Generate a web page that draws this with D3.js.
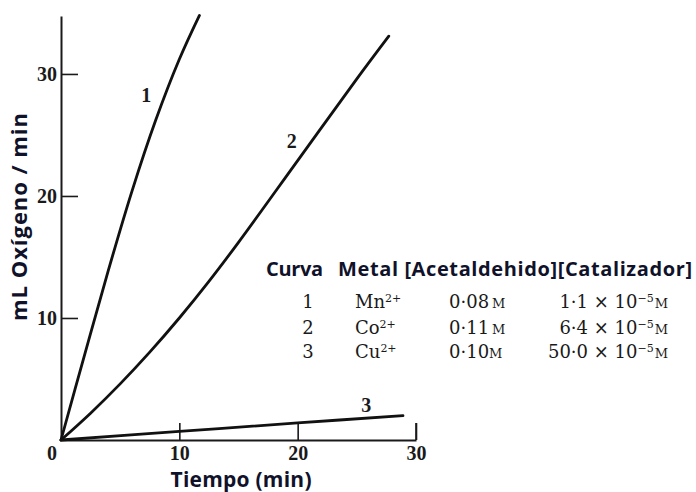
<!DOCTYPE html>
<html>
<head>
<meta charset="utf-8">
<script src="https://cdn.jsdelivr.net/npm/d3@7"></script>
<style>
  html, body { margin: 0; padding: 0; background: #fff; }
  svg { display: block; }
  .serif { font-family: "Liberation Serif", "DejaVu Serif", serif; fill: #1a1a1a; }
  .table { font-family: "DejaVu Serif", "Liberation Serif", serif; fill: #1a1a1a; }
  .sans { font-family: "Open Sans", Lato, sans-serif; font-weight: bold; fill: #10122a; }
</style>
</head>
<body>
<svg id="chart" width="696" height="492"></svg>
<script>
// Oxygen uptake rate (mL O2 / min) against time (min) for three metal catalysts
const curve1 = [[0, 0], [2, 7.0], [4, 13.9], [6, 20.4], [8, 26.2], [10, 31.2], [11.7, 34.8]];
const curve2 = [[0, 0], [2.5, 2.2], [5, 4.6], [7.5, 7.2], [10, 10.0], [12.5, 13.0], [15, 16.2], [20, 22.9], [25, 29.6], [27.7, 33.1]];
const curve3 = [[0, 0], [10, 0.7], [20, 1.4], [28.9, 2.0]];
const curveNames = ["1", "2", "3"];

const xTicks = [10, 20, 30];
const yTicks = [10, 20, 30];

// Legend table
const tableHeader = ["Curva", "Metal [Acetaldehido][Catalizador]"];
const tableCurve = ["1", "2", "3"];
const tableMetal = [["Mn", "2+"], ["Co", "2+"], ["Cu", "2+"]];
const tableAcet = ["0·08", "0·11", "0·10"];
const tableCat = ["1·1", "6·4", "50·0"];

const svg = d3.select("#chart");

const x = d3.scaleLinear().domain([0, 30]).range([61, 416]);
const y = d3.scaleLinear().domain([0, 34.75]).range([440, 16]);

// Axes: ticks point inward
const xAxis = svg.append("g")
  .attr("transform", `translate(0,${y(0)})`)
  .call(d3.axisBottom(x).tickValues(xTicks).tickSizeInner(-17).tickSizeOuter(0).tickPadding(6));
const yAxis = svg.append("g")
  .attr("transform", `translate(${x(0)},0)`)
  .call(d3.axisLeft(y).tickValues(yTicks).tickSizeInner(-17).tickSizeOuter(0).tickPadding(4));

[xAxis, yAxis].forEach(g => {
  g.select(".domain").attr("stroke", "#1a1a1a").attr("stroke-width", 2);
  g.selectAll(".tick line").attr("stroke", "#1a1a1a").attr("stroke-width", 1.6);
  g.selectAll(".tick text")
    .attr("class", "serif")
    .style("font-size", "20px")
    .style("font-weight", "bold")
    .style("font-family", "'Liberation Serif', serif")
    .attr("fill", "#1a1a1a");
});

// Closing tick at the right end of the time axis
svg.append("line")
  .attr("x1", x(30)).attr("x2", x(30))
  .attr("y1", y(0)).attr("y2", y(0) - 17)
  .attr("stroke", "#1a1a1a").attr("stroke-width", 1.6);

// Origin label
svg.append("text").attr("class", "serif")
  .attr("x", x(0) - 9).attr("y", y(0) + 6).attr("dy", "0.71em")
  .attr("text-anchor", "middle")
  .style("font-size", "20px").style("font-weight", "bold")
  .text("0");

// Curves
const line = d3.line()
  .x(d => x(d[0]))
  .y(d => y(d[1]))
  .curve(d3.curveCatmullRom.alpha(0.5));

svg.append("g").selectAll("path")
  .data([curve1, curve2, curve3])
  .join("path")
  .attr("d", line)
  .attr("fill", "none")
  .attr("stroke", "#111")
  .attr("stroke-width", 2.8)
  .attr("stroke-linecap", "round");

// Curve numbers
const labelPos = [[7.2, 28.3], [19.5, 24.5], [25.8, 2.9]];
svg.append("g").selectAll("text")
  .data(curveNames)
  .join("text")
  .attr("class", "serif")
  .attr("x", (d, i) => x(labelPos[i][0]))
  .attr("y", (d, i) => y(labelPos[i][1]))
  .attr("text-anchor", "middle")
  .attr("dy", "0.35em")
  .style("font-size", "20px")
  .style("font-weight", "bold")
  .text(d => d);

// Sans-serif captions, spread to a set width
function caption(txt, xPos, yPos, size, width, anchor, transform) {
  const t = svg.append("text").attr("class", "sans")
    .attr("x", xPos).attr("y", yPos)
    .attr("text-anchor", anchor)
    .style("font-size", size + "px")
    .text(txt);
  if (transform) t.attr("transform", transform);
  if (width) t.attr("textLength", width).attr("lengthAdjust", "spacing");
  return t;
}

caption("Tiempo (min)", 241, 487, 21, 141, "middle");
caption("mL Oxígeno / min", 0, 0, 22, 208, "middle", "translate(27,217) rotate(-90)");

// Legend table
caption(tableHeader[0], 266, 276, 20, 57, "start");
caption(tableHeader[1], 338, 276, 20, 354, "start");

const rowY = [308, 334, 358];
const rows = svg.append("g").selectAll("g.row").data(tableCurve).join("g").attr("class", "row");

rows.append("text").attr("class", "table")
  .attr("x", 308).attr("y", (d, i) => rowY[i])
  .attr("text-anchor", "middle").style("font-size", "18px")
  .text(d => d);

rows.each(function (d, i) {
  const g = d3.select(this);
  const metal = g.append("text").attr("class", "table")
    .attr("x", 355).attr("y", rowY[i]).style("font-size", "18px");
  metal.append("tspan").text(tableMetal[i][0]);
  metal.append("tspan").attr("dy", -6).style("font-size", "11px").text(tableMetal[i][1]);

  const ac = g.append("text").attr("class", "table")
    .attr("x", 449).attr("y", rowY[i]).style("font-size", "18px");
  ac.append("tspan").text(tableAcet[i]);
  ac.append("tspan").attr("dx", i === 2 ? 0 : 3).style("font-size", "13px").text("M");

  const cat = g.append("text").attr("class", "table")
    .attr("x", 668).attr("y", rowY[i]).attr("text-anchor", "end").style("font-size", "18px");
  cat.append("tspan").text(tableCat[i] + " × 10");
  cat.append("tspan").attr("dy", -6).style("font-size", "11px").text("−5");
  cat.append("tspan").attr("dy", 6).attr("dx", 1).style("font-size", "13px").text("M");
});
</script>
</body>
</html>
